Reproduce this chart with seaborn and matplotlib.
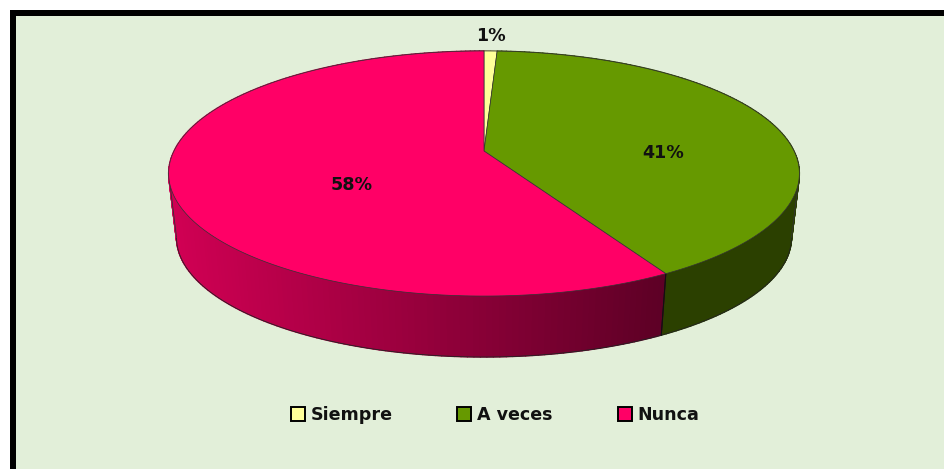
import numpy as np
import matplotlib
matplotlib.use("Agg")
import matplotlib.pyplot as plt
import seaborn as sns
from matplotlib.collections import PolyCollection
from matplotlib.path import Path
from matplotlib.transforms import Transform, Affine2D

categories = ["Siempre", "A veces", "Nunca"]
values = [0.8, 41.0, 58.2]
top_colors = ["#FFFF99", "#669900", "#FF0066"]

sns.set_theme(style="white")
plt.rcParams["font.family"] = ["DejaVu Sans"]

W, H = 944, 469
APEX = (484.0, 151.0)
A, B, K = 310.0, 118.4, 0.1837
BOTTOM_SCALE, DEPTH = 0.975, 64.6
FONT_SIZE = 12.6


def project(uv):
    uv = np.asarray(uv, float)
    w = 1 + K * uv[:, 1]
    return np.column_stack((APEX[0] + A * uv[:, 0] / w,
                            APEX[1] - B * uv[:, 1] / w))


class DiscTransform(Transform):
    input_dims = output_dims = 2
    is_affine = False
    has_inverse = False

    def transform_non_affine(self, values):
        return project(values)

    def transform_path_non_affine(self, path):
        poly = path.to_polygons(Affine2D().scale(2000), closed_only=False)[0] / 2000
        return Path(project(poly))


def rim(theta_deg):
    t = np.radians(theta_deg)
    top = project(np.column_stack((np.cos(t), np.sin(t))))
    bot = np.column_stack((APEX[0] + (top[:, 0] - APEX[0]) * BOTTOM_SCALE,
                           APEX[1] + (top[:, 1] - APEX[1]) * BOTTOM_SCALE + DEPTH))
    return top, bot


fig = plt.figure(figsize=(W / 100, H / 100), dpi=100, facecolor="white")
L, T = 13.0, 13.5
ax = fig.add_axes([L / W, 0, 1 - L / W, 1 - T / H])

palette = sns.color_palette(top_colors)
wedges, _, autotexts = ax.pie(
    values, colors=palette, startangle=90, counterclock=False,
    autopct="%.0f%%", pctdistance=0.6,
    wedgeprops=dict(edgecolor="#333333", linewidth=0.5, zorder=3),
    textprops=dict(fontsize=FONT_SIZE, fontweight="bold", color="#111111", zorder=5),
)
disc = DiscTransform()
for w in wedges:
    w.set_transform(disc + ax.transData)

ax.set_aspect("auto")
ax.set_frame_on(True)
ax.set_facecolor("#E2EFD9")
for s in ("right", "bottom"):
    ax.spines[s].set_visible(False)
for s in ("left", "top"):
    ax.spines[s].set_color("black")
    ax.spines[s].set_linewidth(6 * 72 / 100)
    ax.spines[s].set_capstyle("projecting")

# label placement as in the reference
for txt, xy in zip(autotexts, [(491, 36), (663, 153), (352, 185)]):
    txt.set_position(xy)
    txt.set_ha("center")
    txt.set_va("center")

# widest point of the rim: the silhouette of the wall starts there
_, full_bot = rim(np.arange(0, 360, 0.25))
y_sil = full_bot[np.argmin(full_bot[:, 0]), 1]

# side wall, derived from the wedge angles
for w, col in zip(wedges, palette):
    n = max(int(abs(w.theta2 - w.theta1)), 2)
    th = np.linspace(w.theta1, w.theta2, n * 4 + 1)
    top, bot = rim(th)
    quads, cols = [], []
    step = 4
    for i in range(0, len(th) - step, step):
        quads.append([top[i], top[i + step], bot[i + step], bot[i]])
        xm = (top[i, 0] + top[i + step, 0]) / 2
        if col == palette[2]:
            f = np.interp(xm, [170, 660], [0.82, 0.37])
        elif col == palette[1]:
            f = 0.42
        else:
            f = 0.6
        cols.append(tuple(c * f for c in col))
    ax.add_collection(PolyCollection(quads, facecolors=cols, edgecolors=cols,
                                     linewidths=1.0, zorder=1))
    front = bot[:, 1] >= y_sil
    if front.any():
        ax.plot(bot[front, 0], bot[front, 1], color="#222222", lw=0.6, zorder=2)
    for idx in (0, -1):
        # radial seams on the visible front only
        if top[idx, 1] > APEX[1] + 20:
            ax.plot([top[idx, 0], bot[idx, 0]], [top[idx, 1], bot[idx, 1]],
                    color="#111111", lw=0.7, zorder=2)
    # silhouette edges of the wall
    for idx in (np.argmin(bot[:, 0]), np.argmax(bot[:, 0])):
        if abs(bot[idx, 0] - APEX[0]) > 290:
            ax.plot([top[idx, 0], bot[idx, 0]], [top[idx, 1], bot[idx, 1]],
                    color="#333333", lw=0.6, zorder=2)

ax.set_xlim(L, W)
ax.set_ylim(H, T)

leg = ax.legend(
    wedges, categories, loc="center", bbox_to_anchor=(495, 415),
    bbox_transform=ax.transData, ncol=3, frameon=False,
    prop=dict(size=FONT_SIZE, weight="bold"), labelcolor="#111111",
    handlelength=0.8, handleheight=0.8, handletextpad=0.34, columnspacing=3.7,
    borderpad=0, borderaxespad=0,
)
for h in leg.get_patches():
    h.set_edgecolor("black")
    h.set_linewidth(1.4)

fig.savefig("out.png", dpi=100, facecolor="white")
